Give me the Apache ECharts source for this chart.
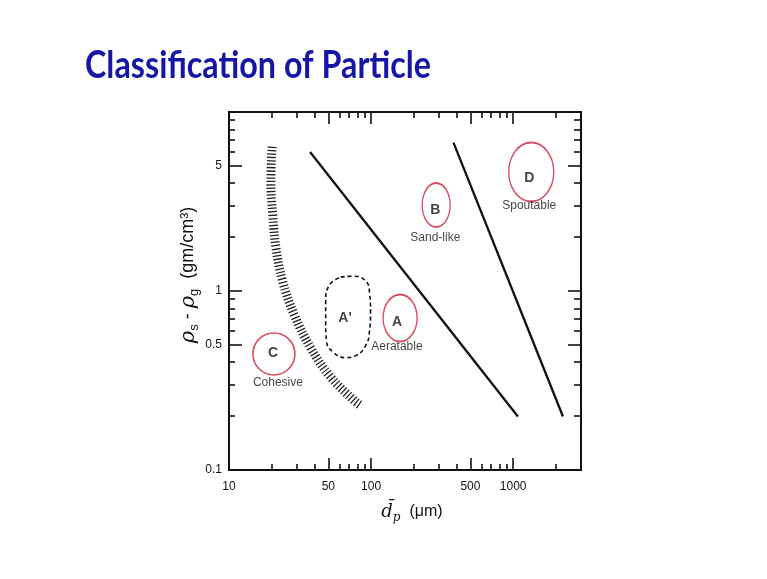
<!DOCTYPE html>
<html><head><meta charset="utf-8">
<script src="https://cdn.jsdelivr.net/npm/echarts@6/dist/echarts.min.js"></script>
<style>html,body{margin:0;padding:0;background:#fff}#c{width:767px;height:579px}</style>
</head><body><div id="c"></div>
<script>
// ---- data (real units: d_p in µm, rho_s - rho_g in g/cm3) ----
const xRange = [10, 3000];
const yRange = [0.1, 10];
const xLabelValues = [10, 50, 100, 500, 1000];
const xLongTicks = [50, 100, 500, 1000];
const xShortTicks = [20, 30, 40, 60, 70, 80, 90, 200, 300, 400, 600, 700, 800, 900, 2000];
const yLabelValues = [0.1, 0.5, 1, 5];
const yLongTicks = [0.5, 1, 5];
const yShortTicks = [0.2, 0.3, 0.4, 0.6, 0.7, 0.8, 0.9, 2, 3, 4, 6, 7, 8, 9];

const boundaryCA = [[20.1, 6.4], [19.7, 4.1], [20.3, 2.67], [21.4, 1.74], [23.8, 1.14], [28.7, 0.74], [37.6, 0.48], [52, 0.33], [75.7, 0.245], [84, 0.23]];
const boundaryAB = [[37.2, 5.98], [1079, 0.199]];
const boundaryBD = [[380, 6.74], [2239, 0.199]];
const regionAprime = [[61.1, 1.196], [74.1, 1.21], [91.5, 1.137], [97.5, 0.975], [99.1, 0.774], [97.5, 0.599], [91.5, 0.495], [77.9, 0.4356], [66.2, 0.4245], [54.6, 0.4527], [48.5, 0.527], [47.9, 0.681], [47.9, 0.88], [50.3, 1.066], [61.1, 1.196]];

const groupLetters = ['C', "A'", 'A', 'B', 'D'];
const letterPos = [[20.4, 0.45], [65.6, 0.706], [152, 0.671], [283, 2.83], [1297, 4.28]];
const groupNames = ['Cohesive', 'Aeratable', 'Sand-like', 'Spoutable'];
const namePos = [[22.1, 0.306], [152, 0.487], [283, 1.98], [1297, 2.98]];
const circleCenters = [[20.7, 0.445], [160, 0.706], [287, 3.02], [1340, 4.62]];

// ---- helpers ----
const L = Math.log10;
const lg = p => [L(p[0]), L(p[1])];
const fmt = v => String(Number(Math.pow(10, v).toPrecision(6)));
const circleSizes = [[42, 42], [34, 47], [28, 44], [45, 59]];
const FONT = 'Liberation Sans';

function axis(kind, grid, pos, ticks, len, labels) {
  const r = kind === 'x' ? xRange : yRange;
  return {
    type: 'value', gridIndex: grid, position: pos,
    min: L(r[0]), max: L(r[1]),
    axisLine: {show: true, onZero: false, lineStyle: {color: '#111', width: 2}},
    axisTick: {show: true, inside: true, length: len, customValues: ticks.map(L), lineStyle: {color: '#111', width: 1.6}},
    axisLabel: labels ? {show: true, customValues: labels.map(L), formatter: fmt, color: '#111', fontFamily: FONT, fontSize: 12, margin: kind === 'x' ? 11 : 7} : {show: false},
    splitLine: {show: false}
  };
}

const gridRect = {left: 229, top: 112, right: 186, bottom: 109};
const chart = echarts.init(document.getElementById('c'), null, {renderer: 'canvas'});

const xA0 = axis('x', 0, 'bottom', xShortTicks, 6, xLabelValues);
Object.assign(xA0, {
  name: '{d|d\u0304}{sub|p}{t|  (\u03bcm)}', nameLocation: 'middle', nameGap: 30,
  nameTextStyle: {padding: [0, 0, 0, 14], rich: {
    d: {fontFamily: 'DejaVu Serif', fontStyle: 'italic', fontSize: 18, color: '#111', lineHeight: 24},
    sub: {fontFamily: 'DejaVu Serif', fontStyle: 'italic', fontSize: 12, color: '#111', lineHeight: 13, verticalAlign: 'bottom'},
    t: {fontFamily: FONT, fontSize: 16, color: '#111', lineHeight: 24}
  }}
});
const yA0 = axis('y', 0, 'left', yShortTicks, 6, yLabelValues);
Object.assign(yA0, {
  name: '{r|\u03c1}{sub|s}{t| - }{r|\u03c1}{sub|g}{t|  (gm/cm\u00b3)}', nameLocation: 'middle', nameGap: 24, nameRotate: 90,
  nameTextStyle: {padding: [0, 0, 0, 32], rich: {
    r: {fontFamily: 'DejaVu Serif', fontStyle: 'italic', fontSize: 21, color: '#111', lineHeight: 26},
    sub: {fontFamily: FONT, fontSize: 13, color: '#111', lineHeight: 14, verticalAlign: 'bottom'},
    t: {fontFamily: FONT, fontSize: 18, color: '#111', lineHeight: 26}
  }}
});

const option = {
  backgroundColor: '#ffffff',
  animation: false,
  graphic: [{
    type: 'text', x: 85, y: 66, scaleX: 0.85,
    style: {text: 'Classifica\u200Ction of Par\u200Cticle', fontFamily: 'Lato', fontWeight: 'bold', fontSize: 38, fill: '#1616a6', verticalAlign: 'middle'}
  }],
  grid: [Object.assign({}, gridRect), Object.assign({}, gridRect)],
  xAxis: [
    xA0,
    axis('x', 0, 'top', xShortTicks, 6, null),
    axis('x', 1, 'bottom', xLongTicks, 12, null),
    axis('x', 1, 'top', xLongTicks, 12, null)
  ],
  yAxis: [
    yA0,
    axis('y', 0, 'right', yShortTicks, 7, null),
    axis('y', 1, 'left', yLongTicks, 13, null),
    axis('y', 1, 'right', yLongTicks, 13, null)
  ],
  series: [
    {type: 'line', xAxisIndex: 0, yAxisIndex: 0, data: boundaryCA.map(lg), smooth: 0.4, showSymbol: false, symbol: 'none',
     lineStyle: {color: '#222', width: 9, type: [1.3, 2.1], cap: 'butt'}},
    {type: 'line', xAxisIndex: 0, yAxisIndex: 0, data: boundaryAB.map(lg), showSymbol: false, symbol: 'none',
     lineStyle: {color: '#111', width: 2.3}},
    {type: 'line', xAxisIndex: 0, yAxisIndex: 0, data: boundaryBD.map(lg), showSymbol: false, symbol: 'none',
     lineStyle: {color: '#111', width: 2.3}},
    {type: 'line', xAxisIndex: 0, yAxisIndex: 0, data: regionAprime.map(lg), smooth: 0.5, showSymbol: false, symbol: 'none',
     lineStyle: {color: '#111', width: 1.6, type: [4, 3]}},
    {type: 'scatter', xAxisIndex: 0, yAxisIndex: 0, silent: true,
     data: circleCenters.map((p, i) => ({value: lg(p), symbolSize: circleSizes[i]})),
     itemStyle: {color: 'rgba(0,0,0,0)', borderColor: '#d0223c', borderWidth: 1.6}},
    {type: 'scatter', xAxisIndex: 0, yAxisIndex: 0, symbolSize: 0,
     data: letterPos.map((p, i) => ({value: lg(p), name: groupLetters[i]})),
     label: {show: true, position: 'inside', formatter: '{b}', fontFamily: FONT, fontWeight: 'bold', fontSize: 14, color: '#111'}},
    {type: 'scatter', xAxisIndex: 0, yAxisIndex: 0, symbolSize: 0,
     data: namePos.map((p, i) => ({value: lg(p), name: groupNames[i]})),
     label: {show: true, position: 'inside', formatter: '{b}', fontFamily: FONT, fontSize: 12, color: '#111'}}
  ]
};
chart.setOption(option);
</script></body></html>
